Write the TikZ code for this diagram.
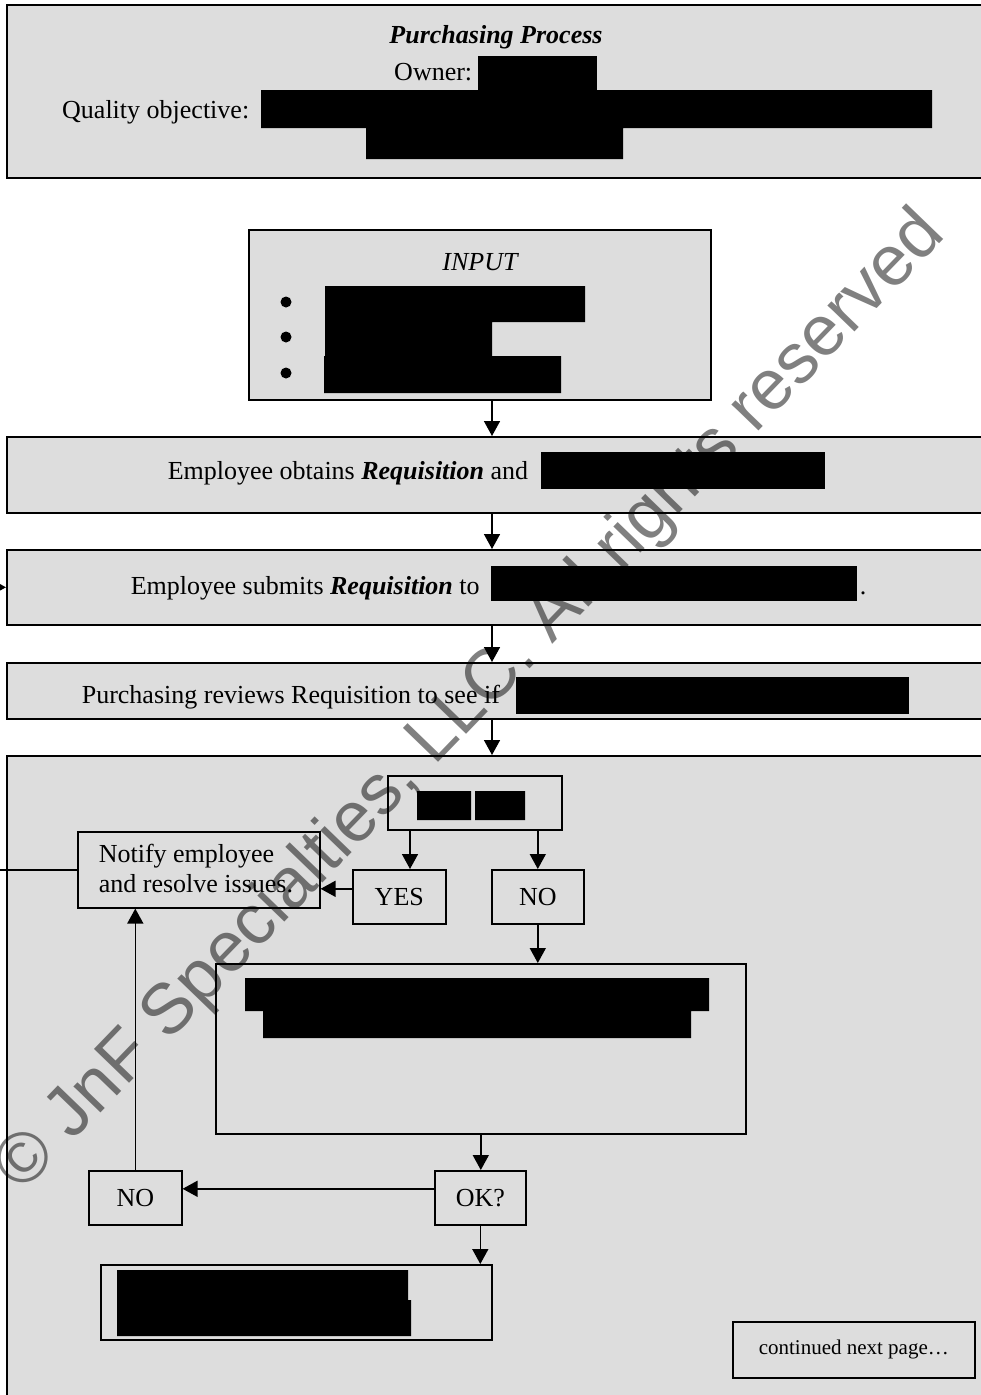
\documentclass[tikz,border=0pt]{standalone}
\usepackage{fontspec}
\setmainfont{Liberation Serif}
\newfontfamily\stampfont{Liberation Sans}
\usetikzlibrary{arrows.meta}
\definecolor{panel}{HTML}{DDDDDD}
\definecolor{stampgray}{HTML}{808080}
\newcommand\bodysize{\fontsize{26}{30}\selectfont}

\begin{document}
\begin{tikzpicture}[x=1pt, y=-1pt, line width=1.6pt, font=\bodysize,
  box/.style={draw, fill=panel, anchor=north west, inner sep=0pt},
  flow/.style={-{Triangle[length=15pt,width=16pt]}},
  txt/.style={inner sep=0pt}]
  \useasboundingbox[fill=white] (0,0) rectangle (980,1395);

  \node[box, minimum width=994pt, minimum height=173pt] (head) at (6,4) {};
  \node[txt, font=\bodysize\bfseries\itshape] (title) at (496,37) {Purchasing Process};
  \node[txt, anchor=east] (owner) at (473,72) {Owner:};
  \fill (478,56) rectangle (597,91);
  \node[txt, anchor=east] (goal) at (250,112) {Quality objective:};
  \fill (261,90) rectangle (932,128) (366,128) rectangle (623,159);

  \node[box, minimum width=462pt, minimum height=170pt] (input) at (248,229) {};
  \node[txt, font=\bodysize\itshape] (inputtitle) at (480,262) {INPUT};
  \foreach \y [count=\i] in {302,337,373}
    \node[circle, fill, inner sep=0pt, minimum size=11pt] (dot\i) at (286,\y) {};
  \fill (325,286) rectangle (585,322) (325,322) rectangle (492,356) (324,356) rectangle (561,393);

  \coordinate (spine) at (492,0);
  \node[box, minimum width=994pt, minimum height=76pt] (obtain) at (6,436) {};
  \node[txt, anchor=west] (obtaintext) at (167,473) {Employee obtains \textbf{\textit{Requisition}} and};
  \fill (541,452) rectangle (825,489);

  \node[box, minimum width=994pt, minimum height=75pt] (submit) at (6,549) {};
  \node[txt, anchor=west] (submittext) at (130,588) {Employee submits \textbf{\textit{Requisition}} to};
  \fill (491,566) rectangle (857,601);
  \node[txt, anchor=base west] (stop) at (859,594) {.};

  \node[box, minimum width=994pt, minimum height=56pt] (review) at (6,662) {};
  \node[txt, anchor=west] (reviewtext) at (81,697) {Purchasing reviews Requisition to see if};
  \fill (516,677) rectangle (909,714);

  \node[box, minimum width=994pt, minimum height=700pt] (main) at (6,755) {};
  \node[box, minimum width=174pt, minimum height=54pt] (check) at (387,775) {};
  \fill (417,791) rectangle (471,820) (475,791) rectangle (525,820);
  \node[box, minimum width=93pt, minimum height=54pt] (yes) at (352,869) {YES};
  \node[box, minimum width=92pt, minimum height=54pt] (no) at (491,869) {NO};
  \node[box, minimum width=242pt, minimum height=76pt] (notify) at (77,831) {};
  \node[txt, anchor=west, align=left] (notifytext) at (98,869) {Notify employee\\and resolve issues.};
  \node[box, minimum width=530pt, minimum height=170pt] (detail) at (215,963) {};
  \fill (245,978) rectangle (709,1011) (263,1011) rectangle (691,1038);
  \node[box, minimum width=91pt, minimum height=54pt] (ok) at (434,1170) {OK?};
  \node[box, minimum width=93pt, minimum height=54pt] (reject) at (88,1170) {NO};
  \node[box, minimum width=391pt, minimum height=75pt] (final) at (100,1264) {};
  \fill (117,1270) rectangle (408,1300) (117,1300) rectangle (411,1336);
  \node[box, minimum width=242pt, minimum height=56pt, font=\fontsize{21}{25}\selectfont] (cont) at (732,1321) {continued next page…};

  \draw[flow] (spine |- input.south) -- (spine |- obtain.north);
  \draw[flow] (spine |- obtain.south) -- (spine |- submit.north);
  \draw[flow] (spine |- submit.south) -- (spine |- review.north);
  \draw[flow] (spine |- review.south) -- (spine |- main.north);
  \draw[flow] ([xshift=23pt]check.south west) -- ([xshift=23pt]check.south west |- yes.north);
  \draw[flow] (check.south -| no) -- (no.north);
  \draw[flow] ([yshift=8pt]yes.west) -- ([yshift=8pt]yes.west -| notify.east);
  \draw[flow] (notify.west) -- ++(-100,0) |- (submit.west);
  \draw[flow] (no.south) -- (no.south |- detail.north);
  \draw[flow] (detail.south) -- (detail.south |- ok.north);
  \draw[flow] ([yshift=9pt]ok.west) -- ([yshift=9pt]ok.west -| reject.east);
  \draw[flow] (reject.north) -- (reject.north |- notify.south);
  \draw[flow] (ok.south) -- (ok.south |- final.north);

  \begin{scope}[blend mode=multiply]
    \node[txt, rotate=46, text=stampgray, font=\stampfont\fontsize{71}{76}\selectfont] (stamp) at (472,702) {© JnF Specialties, LLC. All rights reserved};
  \end{scope}
\end{tikzpicture}
\end{document}
